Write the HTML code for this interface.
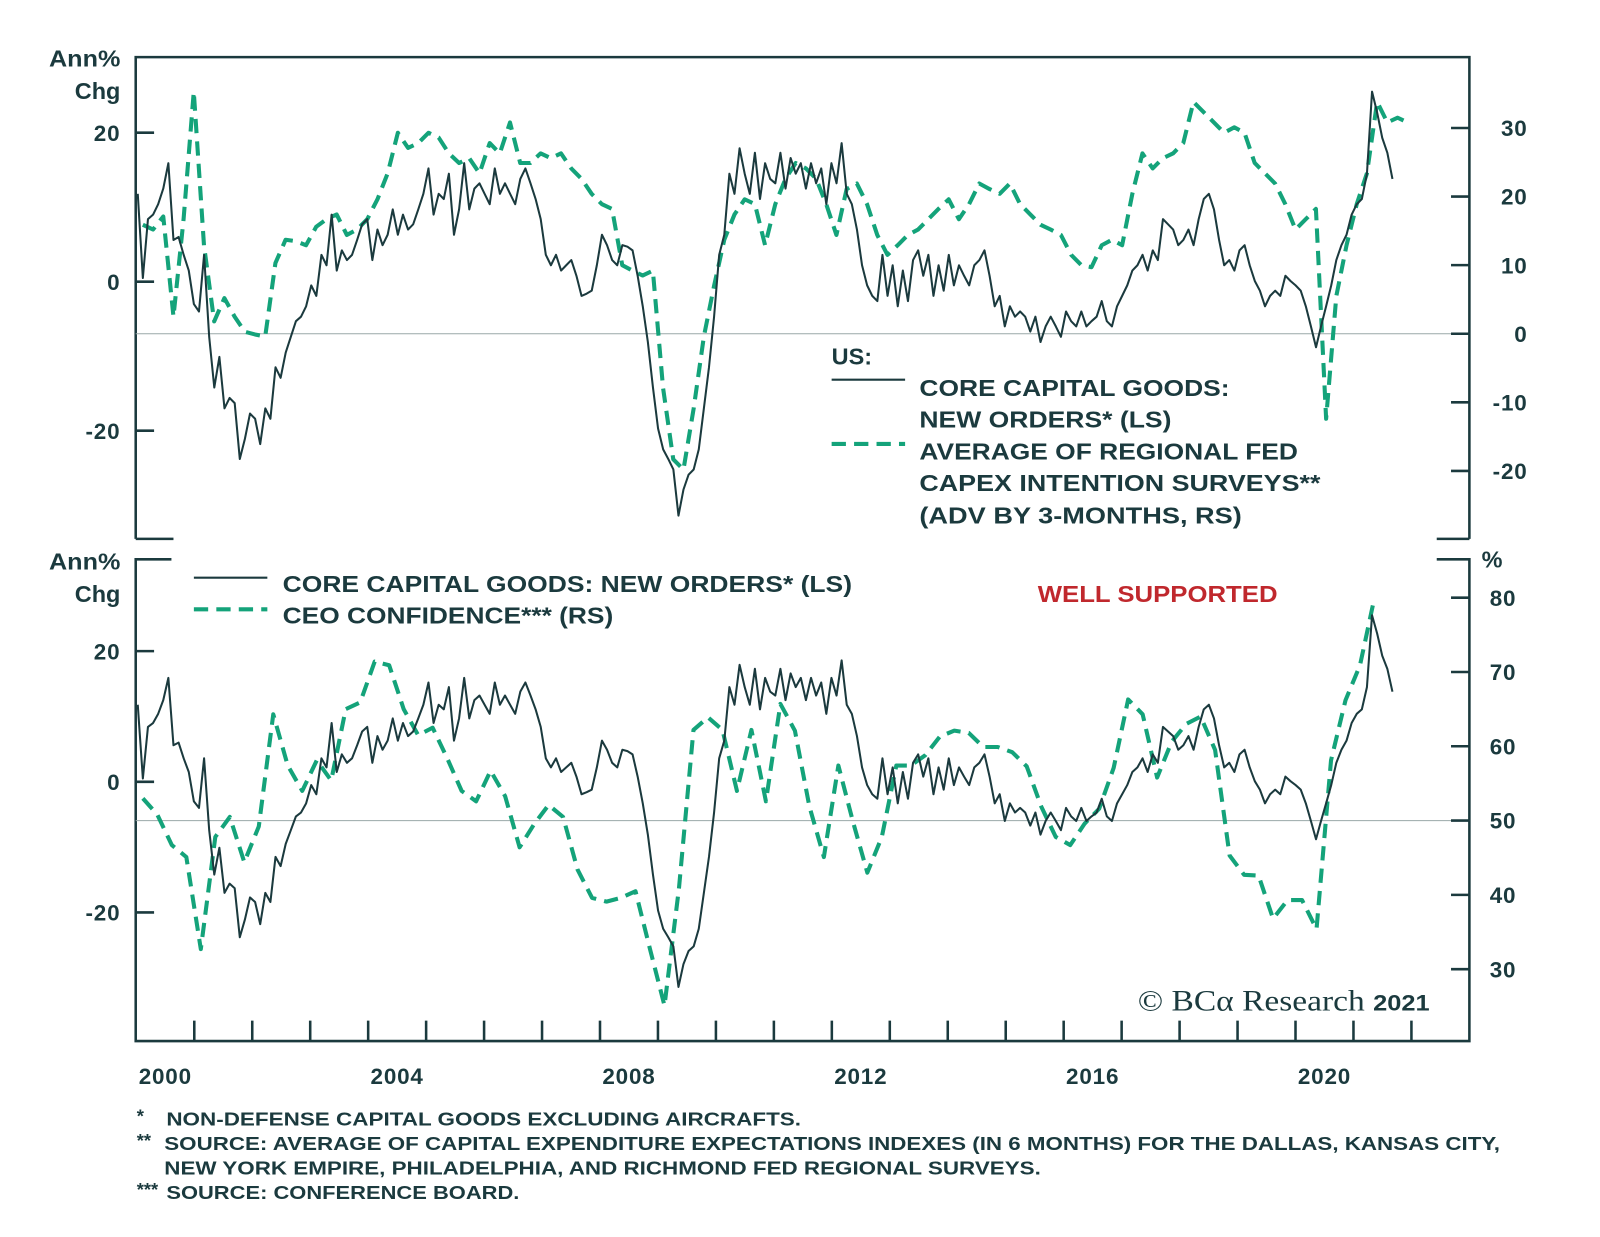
<!DOCTYPE html>
<html><head><meta charset="utf-8"><style>
html,body{margin:0;padding:0;background:#fff;}
svg{display:block;}
text{font-family:"Liberation Sans",sans-serif;fill:#1b3a3e;}
.tk{font-size:22px;font-weight:bold;letter-spacing:0.8px;}
.lg{font-size:23px;font-weight:bold;}
.fn{font-size:18px;font-weight:bold;}
</style></head><body>
<svg id="chart" width="1600" height="1237" viewBox="0 0 1568 1212" preserveAspectRatio="none" xmlns="http://www.w3.org/2000/svg">
<g id="frame" stroke="#1b3a3e" stroke-width="2.5" fill="none">
  <path d="M133,528 V56 H1440 V528 M133,528 H170 M1408,528 H1440"/>
  <path d="M168,548 H133 V1020 H1440 V548 H1408"/>
</g>
<line x1="133" x2="1440" y1="327" y2="327" stroke="#9aa8a8" stroke-width="1"/>
<line x1="133" x2="1440" y1="804" y2="804" stroke="#9aa8a8" stroke-width="1"/>
<g id="axes"></g>
<g id="series"></g>
<text class="lg" x="118" y="65" text-anchor="end" textLength="70" lengthAdjust="spacingAndGlyphs">Ann%</text>
<text class="lg" x="118" y="97" text-anchor="end">Chg</text>
<text class="lg" x="118" y="558" text-anchor="end" textLength="70" lengthAdjust="spacingAndGlyphs">Ann%</text>
<text class="lg" x="118" y="590" text-anchor="end">Chg</text>
<text class="lg" x="1452" y="556">%</text>
<g>
  <text class="lg" x="815" y="357">US:</text>
  <line x1="815" x2="887" y1="372" y2="372" stroke="#1b3a3e" stroke-width="2"/>
  <text class="lg" x="901" y="388" textLength="304" lengthAdjust="spacingAndGlyphs">CORE CAPITAL GOODS:</text>
  <text class="lg" x="901" y="419" textLength="247" lengthAdjust="spacingAndGlyphs">NEW ORDERS* (LS)</text>
  <line x1="815" x2="887" y1="435" y2="435" stroke="#14a37a" stroke-width="4" stroke-dasharray="14 8"/>
  <text class="lg" x="901" y="450" textLength="371" lengthAdjust="spacingAndGlyphs">AVERAGE OF REGIONAL FED</text>
  <text class="lg" x="901" y="481" textLength="393" lengthAdjust="spacingAndGlyphs">CAPEX INTENTION SURVEYS**</text>
  <text class="lg" x="901" y="513" textLength="316" lengthAdjust="spacingAndGlyphs">(ADV BY 3-MONTHS, RS)</text>
</g>
<g>
  <line x1="190" x2="262" y1="566" y2="566" stroke="#1b3a3e" stroke-width="2"/>
  <text class="lg" x="277" y="580" textLength="558" lengthAdjust="spacingAndGlyphs">CORE CAPITAL GOODS: NEW ORDERS* (LS)</text>
  <line x1="190" x2="262" y1="597" y2="597" stroke="#14a37a" stroke-width="4" stroke-dasharray="14 8"/>
  <text class="lg" x="277" y="611" textLength="324" lengthAdjust="spacingAndGlyphs">CEO CONFIDENCE*** (RS)</text>
</g>
<text class="lg" x="1017" y="590" textLength="235" lengthAdjust="spacingAndGlyphs" style="fill:#c0282d">WELL SUPPORTED</text>
<text x="1115" y="990" textLength="286" lengthAdjust="spacingAndGlyphs" style="font-family:'Liberation Serif',serif;font-size:29px">© BCα Research <tspan style="font-family:'Liberation Sans',sans-serif;font-weight:bold;font-size:22px">2021</tspan></text>
<g>
  <text class="fn" x="134" y="1100">*</text>
  <text class="fn" x="163" y="1103" textLength="622" lengthAdjust="spacingAndGlyphs">NON-DEFENSE CAPITAL GOODS EXCLUDING AIRCRAFTS.</text>
  <text class="fn" x="134" y="1124">**</text>
  <text class="fn" x="161" y="1127" textLength="1309" lengthAdjust="spacingAndGlyphs">SOURCE: AVERAGE OF CAPITAL EXPENDITURE EXPECTATIONS INDEXES (IN 6 MONTHS) FOR THE DALLAS, KANSAS CITY,</text>
  <text class="fn" x="161" y="1151" textLength="859" lengthAdjust="spacingAndGlyphs">NEW YORK EMPIRE, PHILADELPHIA, AND RICHMOND FED REGIONAL SURVEYS.</text>
  <text class="fn" x="134" y="1172">***</text>
  <text class="fn" x="163" y="1175" textLength="346" lengthAdjust="spacingAndGlyphs">SOURCE: CONFERENCE BOARD.</text>
</g>
</svg>
<script>
const coreValues = [11.8,0.5,8.4,9.0,10.4,12.5,15.9,5.6,6.0,3.6,1.5,-3.0,-4.0,3.6,-7.4,-14.2,-10.1,-17.0,-15.6,-16.3,-23.8,-21.1,-17.7,-18.4,-21.8,-17.0,-18.4,-11.5,-12.9,-9.5,-7.4,-5.3,-4.7,-3.3,-0.5,-1.9,3.6,2.2,9.0,1.5,4.2,2.9,3.6,5.6,7.7,8.4,2.9,7.0,4.9,6.3,9.7,6.3,9.0,7.0,7.7,9.7,11.8,15.2,9.0,11.8,11.1,14.5,6.3,9.7,15.9,9.7,12.5,13.2,11.8,10.4,15.2,11.8,13.2,11.8,10.4,13.8,15.2,13.2,11.1,8.4,3.6,2.2,3.6,1.5,2.2,2.9,0.8,-1.9,-1.6,-1.2,2.2,6.3,4.9,2.9,2.2,4.9,4.7,4.2,0.8,-3.3,-8.1,-14.2,-19.7,-22.5,-23.8,-25.2,-31.4,-27.9,-25.9,-25.2,-22.5,-17.0,-11.5,-4.7,3.6,6.3,14.5,11.8,17.9,14.5,11.8,17.3,11.1,15.9,13.8,13.2,17.3,12.5,16.6,14.5,15.9,12.5,15.9,13.2,15.2,10.4,15.9,13.2,18.6,11.8,10.4,7.0,2.2,-0.5,-1.9,-2.6,3.6,-1.9,2.2,-3.3,1.5,-2.6,2.9,4.2,0.8,3.6,-1.9,2.2,-1.2,3.6,-0.5,2.2,0.8,-0.5,2.2,2.9,4.2,0.8,-3.3,-1.9,-6.0,-3.3,-4.7,-4.0,-4.7,-6.7,-4.7,-8.1,-6.0,-4.7,-6.0,-7.4,-4.0,-5.3,-6.0,-4.0,-6.0,-5.3,-4.7,-2.6,-5.3,-6.0,-3.3,-1.9,-0.5,1.5,2.2,3.6,1.5,4.2,2.9,8.4,7.7,7.0,4.9,5.6,7.0,4.9,8.4,11.1,11.8,9.7,5.6,2.2,2.9,1.5,4.2,4.9,2.2,0.1,-1.2,-3.3,-1.9,-1.2,-1.9,0.8,0.1,-0.5,-1.2,-3.3,-6.0,-8.8,-6.0,-3.3,-0.5,2.9,4.9,6.3,9.0,10.4,11.1,14.5,25.5,22.7,19.3,17.3,13.8];
const coreStart = 2000.025, coreStep = 0.088;
const capexValues = [15.9,15.2,17.1,2.5,16.7,35.3,12.9,1.8,5.2,2.5,0.3,-0.1,-0.4,10.3,13.7,13.5,12.9,15.6,16.7,17.4,14.4,15.2,16.7,19.6,23.4,29.3,27.1,27.8,29.3,28.6,26.3,24.9,25.6,23.4,27.8,26.3,30.8,24.9,24.9,26.3,25.6,26.3,24.1,22.6,20.4,18.9,18.2,10.0,9.2,8.5,9.2,-7.9,-18.3,-19.8,-10.9,-0.4,7.0,13.7,17.4,19.6,18.9,12.9,18.9,22.6,24.9,24.1,22.6,18.9,14.4,21.1,21.9,18.9,14.4,11.5,12.9,14.4,15.2,16.7,18.2,19.6,16.7,18.9,21.9,21.1,20.4,21.9,18.9,17.4,15.9,15.2,14.4,11.5,10.0,9.7,12.9,13.7,12.9,20.4,26.3,24.1,25.6,26.3,27.8,33.8,32.3,30.8,29.3,30.1,29.3,24.9,23.4,21.9,18.9,15.2,16.7,18.2,-12.4,5.5,12.9,18.9,23.4,33.8,30.8,31.5,30.8];
const capexStart = 2000.112, capexStep = 0.176;
const ceoValues = [53.0,50.8,46.7,45.1,32.7,47.8,50.5,44.4,49.2,64.3,57.4,54.0,58.1,55.4,65.0,65.9,71.4,70.9,65.0,61.5,62.5,58.4,54.0,52.6,56.7,53.3,46.4,49.5,52.1,50.5,43.4,39.6,39.1,39.6,40.5,32.7,25.1,40.9,62.2,63.9,62.2,54.0,62.2,52.6,65.7,62.1,51.9,45.1,57.4,49.9,43.0,47.8,57.4,57.4,58.8,61.3,62.1,61.8,59.9,59.9,59.2,57.3,51.9,47.8,46.7,49.6,51.6,57.1,66.3,64.3,55.8,60.6,63.0,64.0,59.5,45.3,42.7,42.6,36.8,39.3,39.3,35.4,58.1,66.2,70.9,80.0];
const ceoStart = 2000.112, ceoStep = 0.25;
const years = [2000,2004,2008,2012,2016,2020];
const upperLeftTicks = [20,0,-20];
const upperRightTicks = [30,20,10,0,-10,-20];
const lowerLeftTicks = [20,0,-20];
const lowerRightTicks = [80,70,60,50,40,30];

const NS = "http://www.w3.org/2000/svg";
const xS = y => 133.6 + (y - 2000) * 56.8;
const yL1 = v => 276 - v * 7.3;
const yR1 = v => 327 - v * 6.72;
const yL2 = v => 766 - v * 6.4;
const yR2 = v => 804 - (v - 50) * 7.28;
const axes = document.getElementById('axes');
const series = document.getElementById('series');
function mk(tag, attrs, parent) {
  const e = document.createElementNS(NS, tag);
  for (const k in attrs) e.setAttribute(k, attrs[k]);
  parent.appendChild(e);
  return e;
}
function tick(x1, x2, y1, y2) {
  const l = mk('line', {x1: x1, x2: x2, y1: y1, y2: y2, stroke: '#1b3a3e', 'stroke-width': 2.5}, axes);
  
  
}
function label(x, y, txt, anchor) {
  const t = mk('text', {x: x, y: y, 'text-anchor': anchor, class: 'tk'}, axes);
  t.textContent = txt;
  
  
}
upperLeftTicks.forEach(v => { tick(133, 151, yL1(v), yL1(v)); label(118, yL1(v) + 8, String(v), 'end'); });
upperRightTicks.forEach(v => { tick(1422, 1440, yR1(v), yR1(v)); label(1497, yR1(v) + 8, String(v), 'end'); });
lowerLeftTicks.forEach(v => { tick(133, 151, yL2(v), yL2(v)); label(118, yL2(v) + 8, String(v), 'end'); });
lowerRightTicks.forEach(v => { tick(1422, 1440, yR2(v), yR2(v)); label(1486, yR2(v) + 8, String(v), 'end'); });
for (let yr = 2001; yr <= 2022; yr++) tick(xS(yr), xS(yr), 1020, 1000);
years.forEach(yr => label(xS(yr + 0.5), 1062, String(yr), 'middle'));

function line(vals, start, step, ys, color, width, dash, name) {
  const pts = vals.map((v, i) => xS(start + i * step).toFixed(1) + ',' + ys(v).toFixed(1)).join(' ');
  const p = mk('polyline', {points: pts, fill: 'none', stroke: color, 'stroke-width': width, 'stroke-linejoin': 'round'}, series);
  if (dash) p.setAttribute('stroke-dasharray', dash);
  
  
}
line(capexValues, capexStart, capexStep, yR1, '#14a37a', 4, '14 8', 'capex-intentions-line');
line(coreValues, coreStart, coreStep, yL1, '#1b3a3e', 2, null, 'core-orders-upper-line');
line(ceoValues, ceoStart, ceoStep, yR2, '#14a37a', 4, '14 8', 'ceo-confidence-line');
line(coreValues, coreStart, coreStep, yL2, '#1b3a3e', 2, null, 'core-orders-lower-line');
</script>
</body></html>
